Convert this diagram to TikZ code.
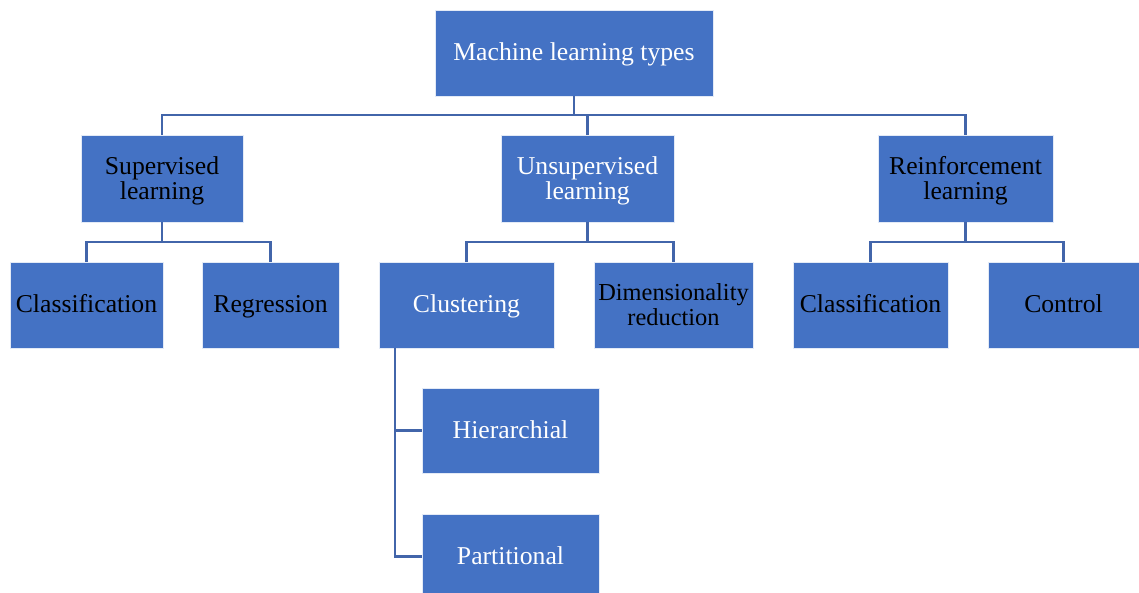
\documentclass[tikz,border=0pt]{standalone}
\usepackage{fontspec}
\setmainfont{Liberation Serif}
\definecolor{boxblue}{RGB}{68,114,196}
\definecolor{linkblue}{RGB}{66,101,170}
\newcommand{\toppad}{\rule{0pt}{23pt}}
\tikzset{
  box/.style={rectangle, fill=boxblue, draw=white!85!boxblue, line width=0.6pt,
    inner sep=0pt, align=center, font=\fontsize{25.7}{25.5}\selectfont},
  oneline/.style={text height=19pt, text depth=4pt},
  wtext/.style={text=white},
  btext/.style={text=black},
  conn/.style={draw=linkblue, line width=2.3pt}
}
\begin{document}
\begin{tikzpicture}[x=1pt,y=-1pt]
\useasboundingbox (0,0) rectangle (1139,593);
\begin{scope}
\clip (0,0) rectangle (1139,593);
% level 0
\node[box,oneline,wtext,minimum width=278pt,minimum height=86pt] (root) at (574,53) {Machine learning types};
% level 1
\node[box,btext,minimum width=162pt,minimum height=87pt] (sup) at (162,178.5) {\toppad Supervised\\learning};
\node[box,wtext,minimum width=173pt,minimum height=87pt] (unsup) at (587.5,178.5) {\toppad Unsupervised\\learning};
\node[box,btext,minimum width=175pt,minimum height=87pt] (rein) at (965.5,178.5) {\toppad Reinforcement\\learning};
% level 2
\node[box,oneline,btext,minimum width=153pt,minimum height=86pt] (cls1) at (86.5,305) {Classification};
\node[box,oneline,btext,minimum width=137pt,minimum height=86pt] (reg) at (270.5,305) {Regression};
\node[box,oneline,wtext,minimum width=175pt,minimum height=86pt] (clu) at (466.5,305) {Clustering};
\node[box,btext,minimum width=159pt,minimum height=86pt,font=\fontsize{24.4}{25}\selectfont] (dim) at (673.5,305) {Dimensionality\\reduction};
\node[box,oneline,btext,minimum width=155pt,minimum height=86pt] (cls2) at (870.5,305) {Classification};
\node[box,oneline,btext,minimum width=151pt,minimum height=86pt] (ctl) at (1063.5,305) {Control};
% level 3
\node[box,oneline,wtext,minimum width=177pt,minimum height=85pt] (hie) at (510.5,430.5) {Hierarchial};
\node[box,oneline,wtext,minimum width=177pt,minimum height=85pt] (par) at (510.5,556.5) {Partitional};
% connectors level 0-1
\coordinate (b1) at (0,115);
\draw[conn] (root.south) -- (root.south |- b1);
\draw[conn] (sup.north) -- (sup.north |- b1) -- (rein.north |- b1) -- (rein.north);
\draw[conn] (unsup.north) -- (unsup.north |- b1);
% connectors level 1-2
\coordinate (b2) at (0,242);
\draw[conn] (sup.south) -- (sup.south |- b2);
\draw[conn] (cls1.north) -- (cls1.north |- b2) -- (reg.north |- b2) -- (reg.north);
\draw[conn] (unsup.south) -- (unsup.south |- b2);
\draw[conn] (clu.north) -- (clu.north |- b2) -- (dim.north |- b2) -- (dim.north);
\draw[conn] (rein.south) -- (rein.south |- b2);
\draw[conn] (cls2.north) -- (cls2.north |- b2) -- (ctl.north |- b2) -- (ctl.north);
% clustering sub-tree
\coordinate (cv) at ([xshift=16pt]clu.south west);
\draw[conn] (cv) |- (hie.west);
\draw[conn] (cv) |- (par.west);
\end{scope}
\end{tikzpicture}
\end{document}
